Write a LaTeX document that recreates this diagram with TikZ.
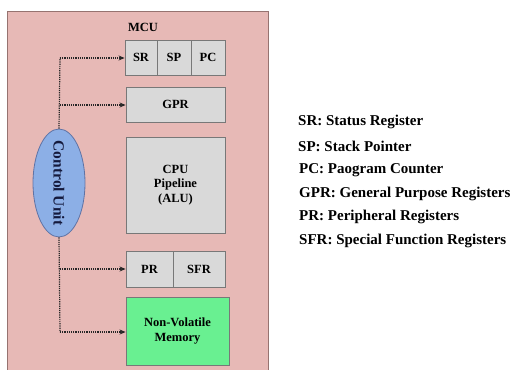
\documentclass[tikz,border=0pt]{standalone}
\usepackage{fontspec}
\setmainfont{Liberation Serif}
\usetikzlibrary{shapes.geometric,arrows.meta}
\definecolor{mcupink}{RGB}{231,185,182}
\definecolor{mcuedge}{RGB}{150,115,112}
\definecolor{regfill}{RGB}{217,217,217}
\definecolor{regedge}{RGB}{120,120,120}
\definecolor{nvmfill}{RGB}{105,240,145}
\definecolor{cufill}{RGB}{140,175,230}
\definecolor{cuedge}{RGB}{95,115,165}
\definecolor{cutext}{RGB}{20,25,60}
\tikzset{
  regbox/.style={draw=regedge, fill=regfill, line width=0.9pt, font=\bfseries\fontsize{12.5}{14.5}\selectfont, inner sep=0pt},
  ctrlarrow/.style={densely dotted, line width=1.2pt, draw=black!85, -{Stealth[length=6pt,width=5pt]}},
  ctrlline/.style={densely dotted, line width=1.2pt, draw=black!85},
  legend/.style={anchor=west, font=\bfseries\fontsize{15}{17}\selectfont, inner sep=0pt}
}
\begin{document}
\begin{tikzpicture}[x=1pt,y=-1pt]
\useasboundingbox (0,0) rectangle (510,369);
\fill[white] (0,0) rectangle (510,369);
% MCU box
\begin{scope}
\clip (0,0) rectangle (510,369);
\draw[draw=mcuedge, fill=mcupink, line width=1pt] (7,12) rectangle (268,380);
\end{scope}
\node[font=\bfseries\fontsize{12.5}{14}\selectfont, inner sep=0pt] (mcu) at (143,27) {MCU};
% SR SP PC
\node[regbox, minimum width=32pt, minimum height=35pt] (sr) at (141,57.5) {SR};
\node[regbox, minimum width=34pt, minimum height=35pt] (sp) at (174,57.5) {SP};
\node[regbox, minimum width=34pt, minimum height=35pt] (pc) at (208,57.5) {PC};
% GPR
\node[regbox, minimum width=99pt, minimum height=35pt] (gpr) at (175.5,104.5) {GPR};
% CPU
\node[regbox, minimum width=99pt, minimum height=96pt, align=center] (cpu) at (175.5,185) {CPU\\Pipeline\\(ALU)};
% PR SFR
\node[regbox, minimum width=47pt, minimum height=36pt] (pr) at (149.5,269) {PR};
\node[regbox, minimum width=52pt, minimum height=36pt] (sfr) at (199,269) {SFR};
% NVM
\node[draw=regedge, fill=nvmfill, line width=0.9pt, minimum width=103pt, minimum height=68pt, align=center, inner sep=0pt, font=\bfseries\fontsize{12.5}{15}\selectfont] (nvm) at (177.5,331) {Non-Volatile\\Memory};
% Control unit
\node[ellipse, draw=cuedge, fill=cufill, line width=0.8pt, minimum width=52pt, minimum height=108pt, inner sep=0pt] (cu) at (59,183) {};
\node[rotate=-90, text=cutext, font=\bfseries\fontsize{15.5}{17}\selectfont] at (cu.center) {Control Unit};
% connectors
\coordinate (t1) at (60,58);
\coordinate (t2) at (60,105);
\coordinate (b1) at (60,269);
\coordinate (b2) at (60,332);
\draw[ctrlline] (cu.north) -- (t1);
\draw[ctrlline] (cu.south) -- (b2);
\draw[ctrlarrow] (t1) -- (sr.west |- t1);
\draw[ctrlarrow] (t2) -- (gpr.west |- t2);
\draw[ctrlarrow] (b1) -- (pr.west |- b1);
\draw[ctrlarrow] (b2) -- (nvm.west |- b2);
% legend
\node[legend] (l1) at (298,122) {SR: Status Register};
\node[legend] (l2) at (298,146) {SP: Stack Pointer};
\node[legend] (l3) at (299,170) {PC: Paogram Counter};
\node[legend] (l4) at (299,194) {GPR: General Purpose Registers};
\node[legend] (l5) at (299,217) {PR: Peripheral Registers};
\node[legend] (l6) at (299,241) {SFR: Special Function Registers};
\end{tikzpicture}
\end{document}
